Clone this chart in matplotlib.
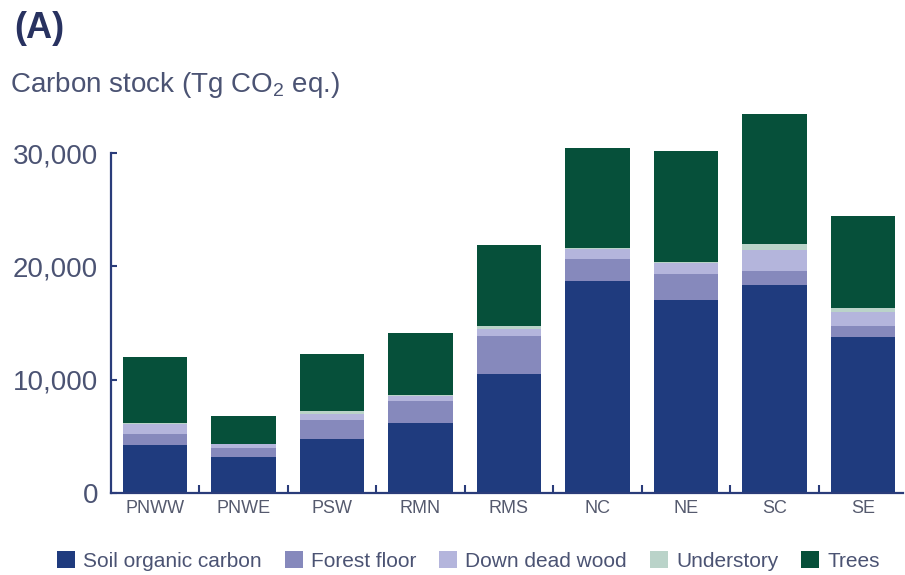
import numpy as np
import matplotlib.pyplot as plt
from matplotlib.ticker import FuncFormatter, FixedLocator

plt.rcParams['font.family'] = ['Liberation Sans', 'DejaVu Sans']
plt.rcParams['mathtext.default'] = 'regular'

regions = ['PNWW', 'PNWE', 'PSW', 'RMN', 'RMS', 'NC', 'NE', 'SC', 'SE']

# carbon pools, Tg CO2 eq.
soil = [4250, 3160, 4750, 6170, 10530, 18700, 16990, 18345, 13780]
forest_floor = [975, 800, 1710, 1910, 3365, 1980, 2300, 1240, 1000]
down_dead_wood = [830, 320, 530, 490, 600, 825, 1030, 1855, 1180]
understory = [120, 60, 205, 100, 285, 150, 100, 510, 385]
trees = [5835, 2475, 5105, 5460, 7080, 8765, 9780, 11500, 8055]

pools = [
    ('Soil organic carbon', soil, '#1f3b7e'),
    ('Forest floor', forest_floor, '#8689bc'),
    ('Down dead wood', down_dead_wood, '#b4b5dc'),
    ('Understory', understory, '#bad3c9'),
    ('Trees', trees, '#06503a'),
]

navy = '#2a3c7a'
label_col = '#4b5373'

W, H = 905, 575
fig = plt.figure(figsize=(W / 100, H / 100), dpi=100)
ax = fig.add_axes([110.7 / W, 82 / H, (903 - 110.7) / W, 385.3 / H])

x = np.arange(len(regions))
bottom = np.zeros(len(regions))
for name, vals, col in pools:
    ax.bar(x, vals, width=0.73, bottom=bottom, color=col, label=name, linewidth=0)
    bottom += np.array(vals)

ax.set_xlim(-0.5, 8.453)
ax.set_ylim(0, 34000)

for s in ['top', 'right']:
    ax.spines[s].set_visible(False)
for s in ['left', 'bottom']:
    ax.spines[s].set_color(navy)
    ax.spines[s].set_linewidth(1.6)
ax.spines['left'].set_bounds(0, 30000)

ax.set_yticks([0, 10000, 20000, 30000])
ax.yaxis.set_major_formatter(FuncFormatter(lambda v, p: f'{int(v):,}'))
ax.tick_params(axis='y', direction='in', length=4, width=1.5, color=navy,
               labelsize=20, labelcolor=label_col, pad=9)

ax.set_xticks(x)
ax.set_xticklabels(regions)
ax.xaxis.set_minor_locator(FixedLocator(x[:-1] + 0.5))
ax.tick_params(axis='x', which='major', length=0, labelsize=13,
               labelcolor='#555a6e', pad=5)
ax.tick_params(axis='x', which='minor', direction='in', length=6, width=1.5, color=navy)

fig.text(14 / W, 1 - 38.3 / H, '(A)', fontsize=26, fontweight='bold',
         color='#283260', va='baseline')
fig.text(10 / W, 1 - 91.7 / H, 'Carbon stock (Tg CO$_2$ eq.)', fontsize=20,
         color=label_col, va='baseline')

fig.legend(loc='center', bbox_to_anchor=(468.5 / W, 1 - 561 / H), ncol=5,
           frameon=False, fontsize=15, handlelength=0.85, handleheight=0.85,
           handletextpad=0.4, columnspacing=1.1, borderpad=0, borderaxespad=0,
           labelcolor=label_col)

fig.savefig('out.png', dpi=100)
